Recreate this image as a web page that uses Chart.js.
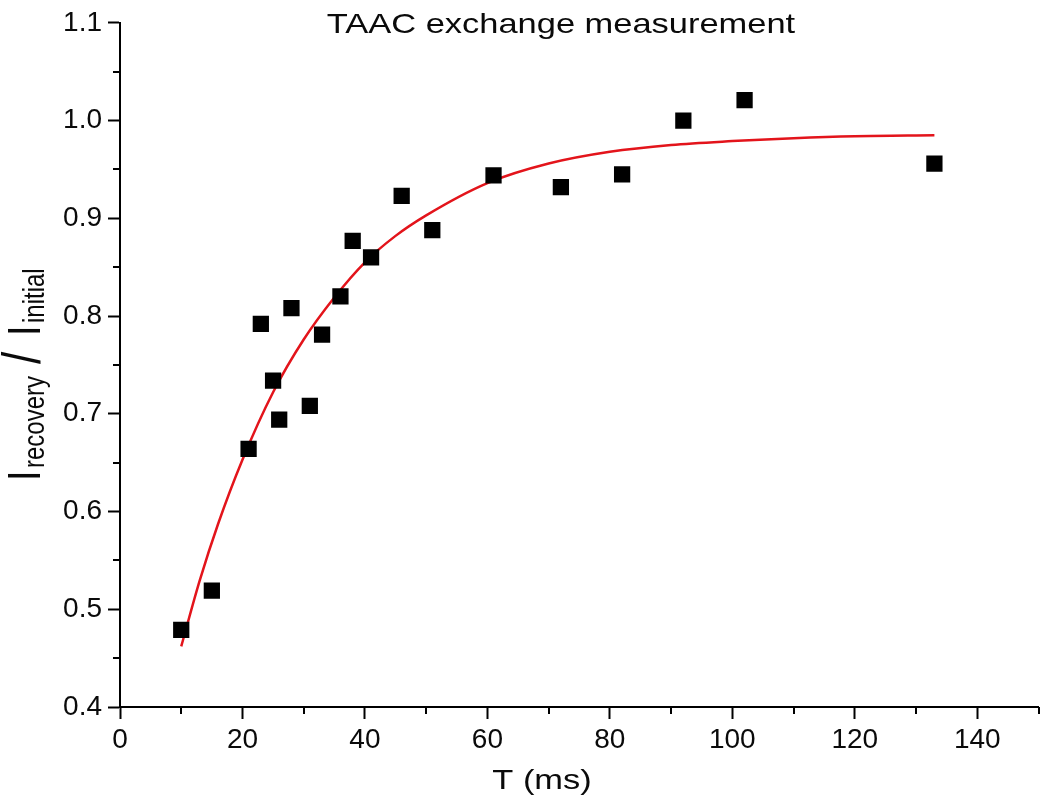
<!DOCTYPE html>
<html>
<head>
<meta charset="utf-8">
<title>TAAC exchange measurement</title>
<script src="https://cdn.jsdelivr.net/npm/chart.js@4.4.1/dist/chart.umd.min.js"></script>
<style>
  html, body { margin: 0; padding: 0; background: #fff; }
  #wrap { width: 1050px; height: 812px; position: relative; }
</style>
</head>
<body>
<div id="wrap"><canvas id="taac-exchange"></canvas></div>
<script>
// measured points (T in ms, recovery ratio)
var timeMs = [10, 15, 21, 23, 25, 26, 28, 31, 33, 36, 38, 41, 46, 51, 61, 72, 82, 92, 102, 133];
var ratio = [0.479, 0.519, 0.664, 0.792, 0.734, 0.694, 0.808, 0.708, 0.781, 0.820, 0.877, 0.860, 0.923, 0.888, 0.944, 0.932, 0.945, 1.000, 1.021, 0.956];

// red fit curve
var fitTime = [10, 13, 16, 20, 25, 30, 35, 40, 45, 50, 60, 70, 80, 90, 100, 110, 120, 133];
var fitRatio = [0.462, 0.529, 0.587, 0.653, 0.722, 0.776, 0.819, 0.855, 0.882, 0.903, 0.936, 0.956, 0.968, 0.975, 0.979, 0.982, 0.984, 0.985];

var xMinorTicks = [10, 30, 50, 70, 90, 110, 130, 150];
var yMinorTicks = [0.45, 0.55, 0.65, 0.75, 0.85, 0.95, 1.05];

var titleText = 'TAAC exchange measurement';
var xTitle = 'T (ms)';

var taacChart;
(function() {
    var FONT = '"Liberation Sans", Arial, Helvetica, sans-serif';
    var INK = '#0a0a0a';

    function toXY(xs, ys) {
        var out = [];
        for (var i = 0; i < xs.length; i++) out.push({x: xs[i], y: ys[i]});
        return out;
    }

    // text stretched horizontally like the scanned figure
    function wideText(ctx, text, cx, base, size, stretch) {
        ctx.save();
        ctx.font = size + 'px ' + FONT;
        ctx.translate(cx, base);
        ctx.scale(stretch, 1);
        ctx.textAlign = 'center';
        ctx.textBaseline = 'alphabetic';
        ctx.fillText(text, 0, 0);
        ctx.restore();
    }

    var figText = {
        id: 'figText',
        afterDraw: function(chart) {
            var ctx = chart.ctx;
            var xs = chart.scales.x, ys = chart.scales.y;
            ctx.save();
            ctx.strokeStyle = '#000';
            ctx.lineWidth = 2;
            ctx.beginPath();
            xMinorTicks.forEach(function(v) {
                var px = Math.round(xs.getPixelForValue(v));
                ctx.moveTo(px, xs.top);
                ctx.lineTo(px, xs.top + 7);
            });
            yMinorTicks.forEach(function(v) {
                var py = Math.round(ys.getPixelForValue(v));
                ctx.moveTo(ys.right, py);
                ctx.lineTo(ys.right - 7, py);
            });
            ctx.stroke();

            ctx.fillStyle = INK;
            wideText(ctx, titleText, 561, 33, 28, 1.23);
            wideText(ctx, xTitle, 542, 789, 28, 1.23);

            // y title: I_recovery /I_initial, rotated, laid out along the axis
            ctx.save();
            ctx.translate(40, 481);
            ctx.rotate(-Math.PI / 2);
            ctx.scale(1, 1.2);
            ctx.textAlign = 'left';
            ctx.textBaseline = 'alphabetic';
            var parts = [
                {t: 'I', size: 38, at: 0, dy: 0},
                {t: 'recovery', size: 24, at: 13, dy: 3},
                {t: '/', size: 44, at: 117, dy: 0},
                {t: 'I', size: 38, at: 145, dy: 0},
                {t: 'initial', size: 24, at: 158, dy: 3}
            ];
            parts.forEach(function(p) {
                ctx.font = p.size + 'px ' + FONT;
                ctx.fillText(p.t, p.at, p.dy);
            });
            ctx.restore();
            ctx.restore();
        }
    };

    taacChart = {
        draw: function(ctx) {
            return new Chart(ctx, {
                type: 'scatter',
                data: {
                    datasets: [{
                        label: 'fit',
                        type: 'line',
                        data: toXY(fitTime, fitRatio),
                        borderColor: '#e3141b',
                        borderWidth: 2.5,
                        pointRadius: 0,
                        cubicInterpolationMode: 'monotone',
                        fill: false,
                        order: 2
                    }, {
                        label: 'data',
                        data: toXY(timeMs, ratio),
                        pointStyle: 'rect',
                        pointRadius: 11.5,
                        pointHoverRadius: 11.5,
                        backgroundColor: '#000',
                        borderWidth: 0,
                        order: 1
                    }]
                },
                options: {
                    responsive: true,
                    maintainAspectRatio: false,
                    animation: false,
                    layout: { padding: { top: 21, right: 7.5, left: 0, bottom: 0 } },
                    plugins: {
                        legend: { display: false },
                        tooltip: { enabled: false },
                        title: { display: false }
                    },
                    scales: {
                        x: {
                            type: 'linear',
                            min: 0,
                            max: 150,
                            border: { display: true, color: '#000', width: 2 },
                            grid: { drawOnChartArea: false, drawTicks: true, tickLength: 12, tickWidth: 2, tickColor: '#000' },
                            ticks: {
                                stepSize: 20,
                                includeBounds: false,
                                autoSkip: false,
                                maxRotation: 0,
                                padding: 4,
                                color: INK,
                                font: { family: FONT, size: 28 }
                            },
                            afterFit: function(scale) { scale.height = 105; }
                        },
                        y: {
                            type: 'linear',
                            min: 0.4,
                            max: 1.1,
                            border: { display: true, color: '#000', width: 2 },
                            grid: { drawOnChartArea: false, drawTicks: true, tickLength: 12, tickWidth: 2, tickColor: '#000' },
                            ticks: {
                                stepSize: 0.1,
                                autoSkip: false,
                                padding: 6,
                                color: INK,
                                font: { family: FONT, size: 28 },
                                callback: function(v) { return Number(v).toFixed(1); }
                            },
                            afterFit: function(scale) { scale.width = 120; }
                        }
                    }
                },
                plugins: [figText]
            });
        }
    };

    taacChart.draw(document.getElementById('taac-exchange'));
})();
</script>
</body>
</html>
